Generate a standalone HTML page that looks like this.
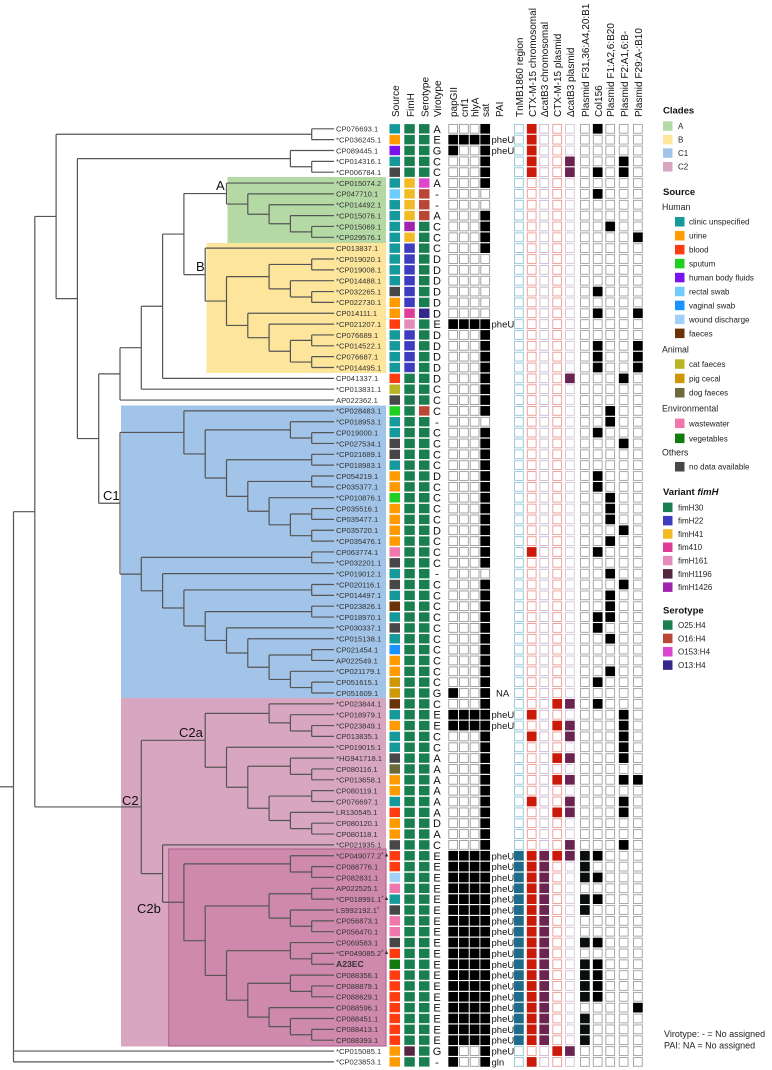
<!DOCTYPE html>
<html><head><meta charset="utf-8"><style>
html,body{margin:0;padding:0;background:#fff;}
svg{display:block;font-family:"Liberation Sans",Arial,sans-serif;}
</style></head><body>
<svg id="fig" width="772" height="1070" viewBox="0 0 772 1070" xmlns="http://www.w3.org/2000/svg"></svg>
<script>
// ---------- data ----------
const rowLabels = ["CP076693.1","*CP036245.1","CP089445.1","*CP014316.1","*CP006784.1","*CP015074.2","CP047710.1","*CP014492.1","*CP015076.1","*CP015069.1","*CP029576.1","CP013837.1","*CP019020.1","*CP019008.1","*CP014488.1","*CP032265.1","*CP022730.1","CP014111.1","*CP021207.1","CP076689.1","*CP014522.1","CP076687.1","*CP014495.1","CP041337.1","*CP013831.1","AP022362.1","*CP028483.1","*CP018953.1","CP019000.1","*CP027534.1","*CP021689.1","*CP018983.1","CP054219.1","CP035377.1","*CP010876.1","CP035516.1","CP035477.1","CP035720.1","*CP035476.1","CP063774.1","*CP032201.1","*CP019012.1","*CP020116.1","*CP014497.1","*CP023826.1","*CP018970.1","*CP030337.1","*CP015138.1","CP021454.1","AP022549.1","*CP021179.1","CP051615.1","CP051609.1","*CP023844.1","*CP018979.1","*CP023849.1","CP013835.1","*CP019015.1","*HG941718.1","CP080116.1","*CP013658.1","CP080119.1","CP076697.1","LR130545.1","CP080120.1","CP080118.1","*CP021935.1","*CP049077.2","CP088776.1","CP082831.1","AP022525.1","*CP018991.1","LS992192.1","CP056873.1","CP056470.1","CP069583.1","*CP049085.2","A23EC","CP088356.1","CP088879.1","CP088629.1","CP088596.1","CP088451.1","CP088413.1","CP088393.1","*CP015085.1","*CP023853.1"];
const rowMarks = {68:"*▲",72:"*▲",73:"*",77:"*▲"};
const sourceCodes = "TUHTNTRTTT"+"TTTTTNUUBT"+"TTTBCNSTTN"+"NTUUSUUUUX"+"NTNTFTNTVU"+"UPPFTUTTND"+"UUTBUUNBBW"+"XTNXXNBGBB"+"BBBBBUU";
const fimhCodes = "00000"+"4444P"+"4222222MK2"+"222"+"0".repeat(62)+"L0";
const serotypeCodes = "gggggmrrrg"+"gggggggngg"+"ggggggrggg"+"g".repeat(57);
const virotypes = "AEGCCA--AC"+"CCDDDDDDED"+"DDDDCCC-CC"+"CCDCCCCDCC"+"C-CCCCCCCC"+"CCGCEECCAA"+"AAAADACEEE"+"EEEEEEEEEE"+"EEEEEG-";
const geneCodes = "SFPSSSNNSS"+"SSNNNNNNFS"+"SSSSSSSNSS"+"SSSSSSSSSS"+"SNSSSSSSSS"+"SSPSFFSSSS"+"SSSSSSSFFF"+"FFFFFFFFFF"+"FFFFFPP";
const paiValues = {2:"pheU",3:"pheU",19:"pheU",53:"NA",55:"pheU",56:"pheU",87:"gln"};
for (let r=68;r<=86;r++) paiValues[r]="pheU";
const rng=(a,b)=>{const o=[];for(let i=a;i<=b;i++)o.push(i);return o;};
const tnRows = rng(68,85);
const ctxChromRows = [1,2,3,4,5,40,55,57,63].concat(rng(68,85),[87]);
const catChromRows = rng(68,85);
const ctxPlasRows = [54,56,59,61,64,68,86];
const catPlasRows = [4,5,24,54,56,57,59,61,63,64,67,68,86];
const f31Rows = [68,69,70,72,73,76,78,79,80,81,83,84,85];
const col156Rows = [1,5,7,16,18,21,22,23,29,33,34,40,46,47,52,54,68,70,72,76,78,79,80,81];
const f1Rows = [10,27,28,35,36,37,39,42,44,45,46,48,51];
const f2Rows = [4,5,24,30,38,43,55,56,57,58,59,61,63,64,67];
const f29Rows = [11,18,21,22,23,61,82];

// tree topology (leaf = row number)
const cladeA = [6,[7,[8,[9,[10,11]]]]];
const cladeB = [12,[[[13,14],[15,[16,17]]],[18,[19,[[20,21],[22,23]]]]]];
const cladeC1 = [[27,[[28,[29,30]],[[31,32],[[33,34],[35,[[36,37],[38,39]]]]]]],
                 [[40,41],[42,[[43,44],[[45,46],[47,[48,[[49,50],[51,[52,53]]]]]]]]]];
const cladeC2a = [[54,[55,[56,57]]],[58,[[59,[60,61]],[[62,63],[64,[65,66]]]]]];
const cladeC2b = [[68,[69,70]],[[[71,72],[73,[74,75]]],[[76,[77,78]],[[79,[80,81]],[82,[83,[84,85]]]]]]];
const treeRoot = [[[[1,2],[[3,[4,5]],[[[[[cladeA,cladeB],24],25],26],cladeC1]]],[cladeC2a,[67,cladeC2b]]],86,87];

// ---------- helpers ----------
const svg=document.getElementById('fig');
const NS="http://www.w3.org/2000/svg";
function el(tag,attrs,parent){const e=document.createElementNS(NS,tag);for(const k in attrs)e.setAttribute(k,attrs[k]);(parent||svg).appendChild(e);return e;}
const rowY = r => 128.8 + 10.85*(r-1);
const STEP=21.3, LEAFX=333;
const hx = h => LEAFX - STEP*h;

// ---------- clade backgrounds ----------
const bgs=[["clade-a-background",227.5,177,386,243,"#b5d9a5"],["clade-b-background",206.5,243,386,373,"#fde59b"],
["clade-c1-background",121,405.5,386,698,"#a1c4e8"],["clade-c2-background",121,698,386,1046.5,"#d9a6c1"]];
bgs.forEach(b=>{const e=el('rect',{x:b[1],y:b[2],width:b[3]-b[1],height:b[4]-b[2],fill:b[5]});

});
const c2b=el('rect',{x:168.7,y:849,width:217.3,height:197,fill:"#cf89ac",stroke:"#b06a90","stroke-width":1.2});



// ---------- tree ----------
const treeG=el('g',{stroke:"#555","stroke-width":1.2,fill:"none"});


function layout(n){
  if(typeof n==='number') return {h:0,y:rowY(n),leaf:n};
  const kids=n.map(layout);
  const h=Math.max(...kids.map(k=>k.h))+1;
  return {h,y:(kids[0].y+kids[kids.length-1].y)/2,kids};
}
function draw(node){
  if(!node.kids) return;
  const x=hx(node.h);
  el('line',{x1:x,y1:node.kids[0].y,x2:x,y2:node.kids[node.kids.length-1].y},treeG);
  node.kids.forEach(k=>{
    const x2 = k.kids ? hx(k.h) : 334;
    el('line',{x1:x,y1:k.y,x2:x2,y2:k.y},treeG);
    draw(k);
  });
}
const T=layout(treeRoot);
draw(T);
el('line',{x1:0,y1:T.y,x2:hx(T.h),y2:T.y},treeG);

// clade labels
[["A",216,190,"clade-label-a"],["B",196,271,"clade-label-b"],["C1",103,500,"clade-label-c1"],["C2",122,805,"clade-label-c2"],["C2a",179,737,"clade-label-c2a"],["C2b",137,913,"clade-label-c2b"]].forEach(c=>{
  const t=el('text',{x:c[1],y:c[2],"font-size":13,fill:"#111"});t.textContent=c[0];
  
  
});

// leaf labels
rowLabels.forEach((lab,i)=>{
  const r=i+1;
  const t=el('text',{x:336,y:rowY(r)+2.8,"font-size":r===78?8.6:7.6,fill:"#333","font-weight":r===78?"bold":"normal"});
  t.textContent=lab;
  if(rowMarks[r]){const s=el('tspan',{"font-size":6,dy:-2},t);s.textContent=rowMarks[r];}
  
  
});

// ---------- colour maps ----------
const srcColor={T:"#16999a",U:"#ff9a00",H:"#7a12f0",N:"#474747",R:"#6fcdfd",B:"#ff3c10",C:"#b8b424",S:"#20d020",X:"#ee78ac",F:"#6a3206",V:"#1893ff",P:"#cc9806",D:"#6c6a3c",W:"#a3d0fb",G:"#137a0e"};
const fimColor={"0":"#1a7f50","2":"#3d3dbd","4":"#f2bb26","M":"#df3c98","K":"#e48bbc","L":"#55263f","P":"#a024ad"};
const seroColor={g:"#1a7f50",r:"#bb4635",m:"#de44cc",n:"#33288a"};

// ---------- annotation columns ----------
const ann=el('g',{});


for(let r=1;r<=87;r++){
  const y=rowY(r)-4.7;
  let e=el('rect',{x:389.5,y:y,width:10.5,height:9.4,fill:srcColor[sourceCodes[r-1]]},ann);
  
  
  e=el('rect',{x:404.3,y:y,width:10.5,height:9.4,fill:fimColor[fimhCodes[r-1]]},ann);
  
  
  e=el('rect',{x:419,y:y,width:10.5,height:9.4,fill:seroColor[serotypeCodes[r-1]]},ann);
  
  
  const v=el('text',{x:437,y:rowY(r)+4,"font-size":11,"text-anchor":"middle",fill:"#111"},ann);
  v.textContent=virotypes[r-1];
  
  
  const gc=geneCodes[r-1];
  const gv=[gc==='F'||gc==='P', gc==='F', gc==='F', gc!=='N'];
  [448.8,459.5,470.2,480.8].forEach((gx,j)=>{
    const g=el('rect',{x:gx,y:y+0.3,width:8.8,height:8.8,fill:gv[j]?"#000":"#fff",stroke:gv[j]?"#000":"#999","stroke-width":0.9},ann);
    
    
  });
  if(paiValues[r]){
    const p=el('text',{x:paiValues[r]==="NA"?496:491.5,y:rowY(r)+3.5,"font-size":9.5,fill:"#111"},ann);
    p.textContent=paiValues[r];
    
    
  }
}
const resCols=[
 [tnRows,514.5,"#1f6b8c","#8fc6d6","tnmb1860-cell"],
 [ctxChromRows,527.3,"#cc1a0a","#eb9a92","ctx-chromosomal-cell"],
 [catChromRows,539.8,"#6b2450","#cdb7cd","catb3-chromosomal-cell"],
 [ctxPlasRows,552.8,"#cc1a0a","#eb9a92","ctx-plasmid-cell"],
 [catPlasRows,565.5,"#6b2450","#d8c4d8","catb3-plasmid-cell"],
 [f31Rows,580.5,"#0a0f0c","#a0a0a0","plasmid-f31-cell"],
 [col156Rows,593.3,"#000","#a0a0a0","col156-cell"],
 [f1Rows,605.8,"#000","#a0a0a0","plasmid-f1-cell"],
 [f2Rows,619.3,"#000","#a0a0a0","plasmid-f2-cell"],
 [f29Rows,633.5,"#000","#a0a0a0","plasmid-f29-cell"]];
resCols.forEach(c=>{
  for(let r=1;r<=87;r++){
    const on=c[0].includes(r);
    const e=el('rect',{x:c[1],y:rowY(r)-4.4,width:8.8,height:8.8,fill:on?c[2]:"#fff",stroke:on?c[2]:c[3],"stroke-width":0.9},ann);
    
    
  }
});

// ---------- column headers ----------
const headers=[["Source",395],["FimH",410],["Serotype",424.5],["Virotype",437],["papGII",453],["cnf1",464],["hlyA",474.5],["sat",485],["PAI",499],
["TnMB1860 region",519],["CTX-M-15 chromosomal",532],["ΔcatB3 chromosomal",544],["CTX-M-15 plasmid",557],["ΔcatB3 plasmid",570],
["Plasmid F31,36:A4,20:B1",585],["Col156",598],["Plasmid F1:A2,6:B20",610],["Plasmid F2:A1,6:B-",624],["Plasmid F29:A-:B10",638]];
headers.forEach(h=>{
  const bx=h[1]+4, by=117;
  const t=el('text',{x:bx,y:by,"font-size":10,fill:"#111",transform:`rotate(-90 ${bx} ${by})`});
  t.textContent=h[0];
  
  
});

// ---------- legend ----------
const leg=el('g',{});


function title(txt,y,italicPart){
  const t=el('text',{x:663,y:y+3.5,"font-size":9.5,"font-weight":"bold",fill:"#111"},leg);
  t.textContent=txt;
  if(italicPart){const s=el('tspan',{"font-style":"italic"},t);s.textContent=italicPart;}
  
  
}
function group(txt,y){
  const t=el('text',{x:662,y:y+3,"font-size":8.8,fill:"#222"},leg);t.textContent=txt;
  
  
}
function item(txt,y,color,indent){
  const sx=indent?675:663, tx=indent?689:678;
  el('rect',{x:sx,y:y-4.7,width:9.5,height:9.5,fill:color},leg);
  const t=el('text',{x:tx,y:y+3,"font-size":8,fill:"#222"},leg);t.textContent=txt;
  
  
}
title("Clades",110);
item("A",126,"#b5d9a5");item("B",139.6,"#fde59b");item("C1",153,"#a1c4e8");item("C2",166.7,"#d9a6c1");
title("Source",191.7);
group("Human",207);
[["clinic unspecified","T"],["urine","U"],["blood","B"],["sputum","S"],["human body fluids","H"],["rectal swab","R"],["vaginal swab","V"],["wound discharge","W"],["faeces","F"]].forEach((s,i)=>item(s[0],221.7+13.95*i,srcColor[s[1]],true));
group("Animal",349.3);
[["cat faeces","C"],["pig cecal","P"],["dog faeces","D"]].forEach((s,i)=>item(s[0],364+14.35*i,srcColor[s[1]],true));
group("Environmental",408.3);
item("wastewater",423.3,srcColor.X,true);item("vegetables",438.3,srcColor.G,true);
group("Others",452.7);
item("no data available",466.7,srcColor.N,true);
title("Variant ",491.7,"fimH");
[["fimH30","0"],["fimH22","2"],["fimH41","4"],["fim410","M"],["fimH161","K"],["fimH1196","L"],["fimH1426","P"]].forEach((s,i)=>item(s[0],507.3+13.3*i,fimColor[s[1]]));
title("Serotype",610);
[["O25:H4","g"],["O16:H4","r"],["O153:H4","m"],["O13:H4","n"]].forEach((s,i)=>item(s[0],625+13.35*i,seroColor[s[1]]));
const n1=el('text',{x:664,y:1037,"font-size":9,fill:"#222"});n1.textContent="Virotype: -  = No assigned";


const n2=el('text',{x:664,y:1048.5,"font-size":9,fill:"#222"});n2.textContent="PAI: NA = No assigned";


</script>
</body></html>
